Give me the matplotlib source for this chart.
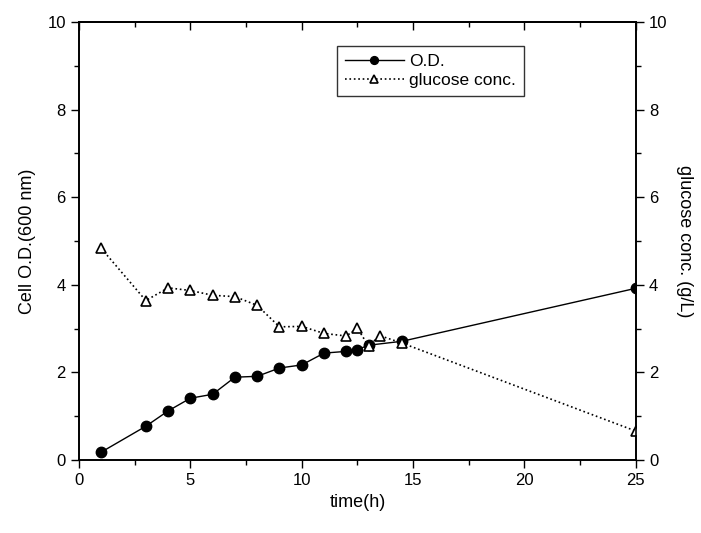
import numpy as np
import matplotlib.pyplot as plt
from matplotlib.ticker import MultipleLocator

plt.rcParams['font.family'] = ['Liberation Sans', 'DejaVu Sans']

# cell density (O.D. 600 nm)
od_time = [1, 3, 4, 5, 6, 7, 8, 9, 10, 11, 12, 12.5, 13, 14.5, 25]
od_vals = [0.18, 0.77, 1.12, 1.41, 1.50, 1.89, 1.91, 2.10, 2.17, 2.44, 2.48, 2.52, 2.62, 2.71, 3.92]

# glucose concentration (g/L)
glc_time = [1, 3, 4, 5, 6, 7, 8, 9, 10, 11, 12, 12.5, 13, 13.5, 14.5, 25]
glc_vals = [4.83, 3.64, 3.93, 3.87, 3.76, 3.73, 3.53, 3.04, 3.05, 2.89, 2.83, 3.01, 2.60, 2.84, 2.67, 0.66]

fig = plt.figure(figsize=(7.01, 5.33), dpi=100)
ax = fig.add_axes([0.1127, 0.137, 0.7943, 0.8217])
ax2 = ax.twinx()

l1, = ax.plot(od_time, od_vals, '-', color='black', lw=1.0, marker='o',
              markersize=7.5, markerfacecolor='black', label='O.D.')
l2, = ax2.plot(glc_time, glc_vals, ':', color='black', lw=1.2, marker='^',
               markersize=7.5, markerfacecolor='white', markeredgewidth=1.2,
               label='glucose conc.')

for a in (ax, ax2):
    a.set_xlim(0, 25)
    a.set_ylim(0, 10)
    a.yaxis.set_major_locator(MultipleLocator(2))
    a.yaxis.set_minor_locator(MultipleLocator(1))
    for s in a.spines.values():
        s.set_linewidth(1.2)

ax.xaxis.set_major_locator(MultipleLocator(5))
ax.xaxis.set_minor_locator(MultipleLocator(2.5))
ax.tick_params(axis='both', which='both', direction='out')
ax.tick_params(which='major', length=6, width=1, labelsize=12)
ax.tick_params(which='minor', length=3.5, width=1)
ax2.tick_params(which='major', length=6, width=1, labelsize=12, direction='out')
ax2.tick_params(which='minor', length=3.5, width=1, direction='out')

# top axis: ticks point inward, no labels
top = ax.secondary_xaxis('top')
top.xaxis.set_major_locator(MultipleLocator(5))
top.xaxis.set_minor_locator(MultipleLocator(2.5))
top.tick_params(which='both', direction='in', labeltop=False, width=1)
top.tick_params(which='major', length=6)
top.tick_params(which='minor', length=3.5)
top.spines['top'].set_linewidth(1.2)

ax.set_xlabel('time(h)', fontsize=13)
ax.set_ylabel('Cell O.D.(600 nm)', fontsize=13, labelpad=8)
ax2.set_ylabel('glucose conc. (g/L)', fontsize=13, rotation=-90, labelpad=18)

leg = ax.legend(handles=[l1, l2], loc='upper left', bbox_to_anchor=(0.463, 0.945),
                borderaxespad=0, frameon=True, fancybox=False, edgecolor='black',
                fontsize=12.5, handlelength=3.4, handletextpad=0.3, labelspacing=0.2,
                borderpad=0.45, markerscale=0.75)
leg.get_frame().set_linewidth(1.0)

fig.savefig('out.png', dpi=100)
